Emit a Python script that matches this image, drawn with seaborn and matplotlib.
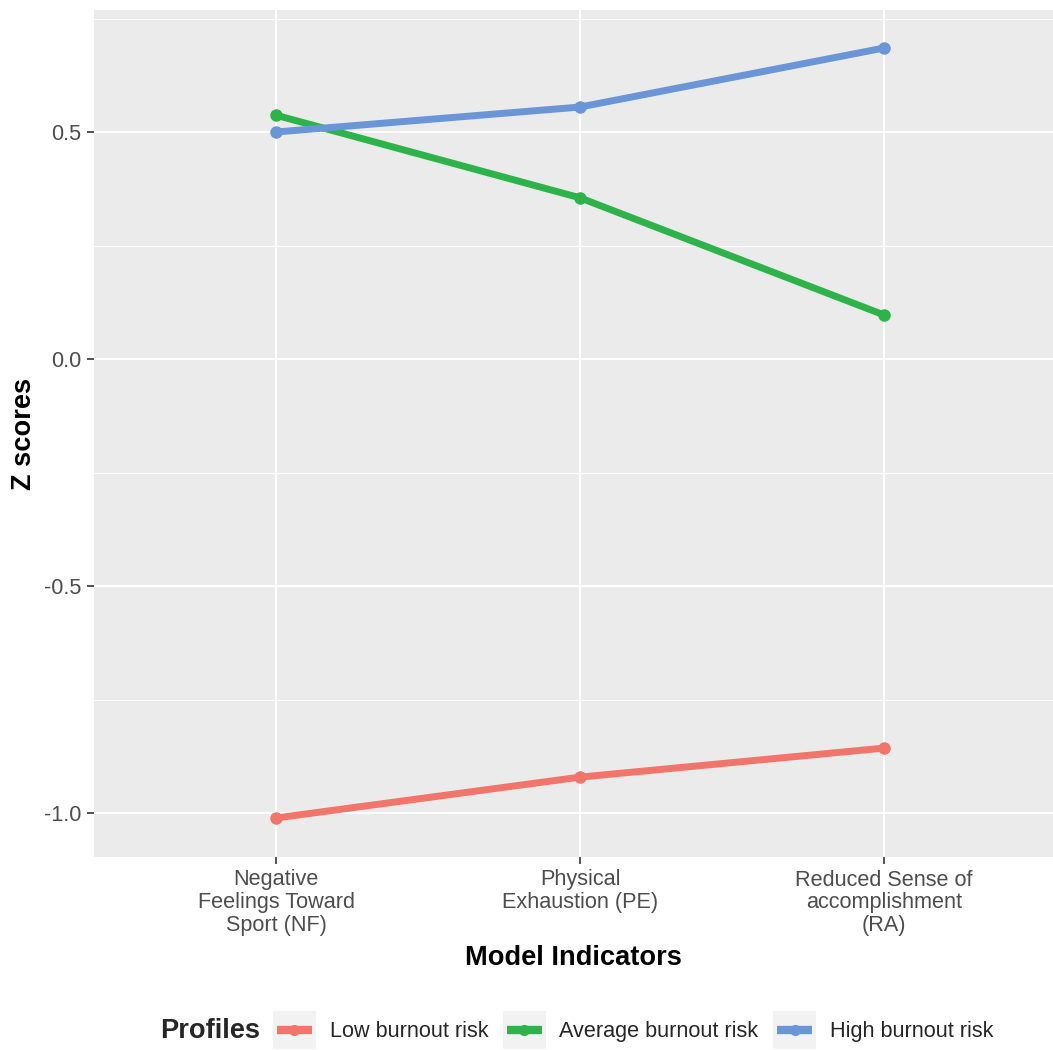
import matplotlib
matplotlib.use("Agg")
import matplotlib.pyplot as plt
import seaborn as sns
import pandas as pd
from matplotlib.patches import Rectangle
from matplotlib.lines import Line2D
from matplotlib.legend_handler import HandlerBase

indicators = ["NF", "PE", "RA"]
indicator_labels = ["Negative\nFeelings Toward\nSport (NF)",
                    "Physical\nExhaustion (PE)",
                    "Reduced Sense of\naccomplishment\n(RA)"]
profiles = ["Low burnout risk", "Average burnout risk", "High burnout risk"]
low_values = [-1.011, -0.921, -0.857]
average_values = [0.537, 0.355, 0.097]
high_values = [0.500, 0.555, 0.685]
colors = ["#F2756B", "#2EB34A", "#6A95D6"]

rows = []
for prof, vals in zip(profiles, [low_values, average_values, high_values]):
    for ind, v in zip(indicators, vals):
        rows.append({"Indicator": ind, "Profile": prof, "Z": v})
df = pd.DataFrame(rows)

sns.set_theme(style="darkgrid")
plt.rcParams["font.family"] = ["Liberation Sans", "DejaVu Sans"]

W, H = 1053, 1050
fig = plt.figure(figsize=(W / 100, H / 100), dpi=100)
left_px, right_px, top_px, bottom_px = 93.6, 1053, 10, 857
ax = fig.add_axes([left_px / W, 1 - bottom_px / H, (right_px - left_px) / W, (bottom_px - top_px) / H])
ax.set_facecolor("#EBEBEB")

sns.lineplot(data=df, x="Indicator", y="Z", hue="Profile", hue_order=profiles,
             palette=colors, linewidth=5, marker="o", markersize=9,
             markeredgewidth=0, ax=ax, legend=False, sort=False)

ax.set_xlim(-0.6, (right_px - 276) / 304)
ax.set_ylim(-(bottom_px - 359) / 454, (359 - top_px) / 454)
ax.set_xticks([0, 1, 2])
ax.set_xticklabels(indicator_labels, fontsize=15.6, color="#4D4D4D", linespacing=1.1)
ax.set_yticks([-1.0, -0.5, 0.0, 0.5])
ax.set_yticklabels(["-1.0", "-0.5", "0.0", "0.5"], fontsize=15.6, color="#4D4D4D")
ax.set_yticks([-0.75, -0.25, 0.25, 0.75], minor=True)
ax.grid(which="major", color="white", linewidth=1.5)
ax.grid(which="minor", axis="y", color="white", linewidth=0.75)
ax.tick_params(axis="both", which="major", length=5, width=1.2, color="#333333",
               bottom=True, left=True, pad=4)
ax.tick_params(axis="y", which="minor", length=0)
for s in ax.spines.values():
    s.set_visible(False)

ax.set_xlabel("Model Indicators", fontsize=19.6, fontweight="bold", color="black", labelpad=7)
ax.set_ylabel("Z scores", fontsize=19.6, fontweight="bold", color="black", labelpad=5)


class KeyHandler(HandlerBase):
    def create_artists(self, legend, orig_handle, xdescent, ydescent, width, height,
                       fontsize, trans):
        x0, y0 = -xdescent, -ydescent
        rect = Rectangle((x0, y0), width, height, facecolor="#F2F2F2",
                         edgecolor="none", transform=trans)
        pad = width * 0.09
        yc = y0 + height / 2
        c = orig_handle.get_color()
        ln = Line2D([x0 + pad, x0 + width - pad], [yc, yc], color=c, linewidth=6,
                    solid_capstyle="butt", transform=trans)
        pt = Line2D([x0 + width / 2], [yc], color=c, marker="o", markersize=8,
                    markeredgewidth=0, linestyle="none", transform=trans)
        return [rect, ln, pt]


handles = [Line2D([], [], color=c) for c in colors]
fig.text(160 / W, 1 - 1031 / H, "Profiles", fontsize=19.6, fontweight="bold",
         ha="left", va="center")
leg = fig.legend(handles=handles, labels=profiles,
                 handler_map={Line2D: KeyHandler()},
                 loc="center left", bbox_to_anchor=(273 / W, 1 - 1030 / H),
                 ncol=3, frameon=False, fontsize=15.6, handlelength=1.97,
                 handleheight=2.37, handletextpad=0.64, columnspacing=0.68,
                 borderaxespad=0, borderpad=0)

fig.savefig("out.png", dpi=100, facecolor="white")
